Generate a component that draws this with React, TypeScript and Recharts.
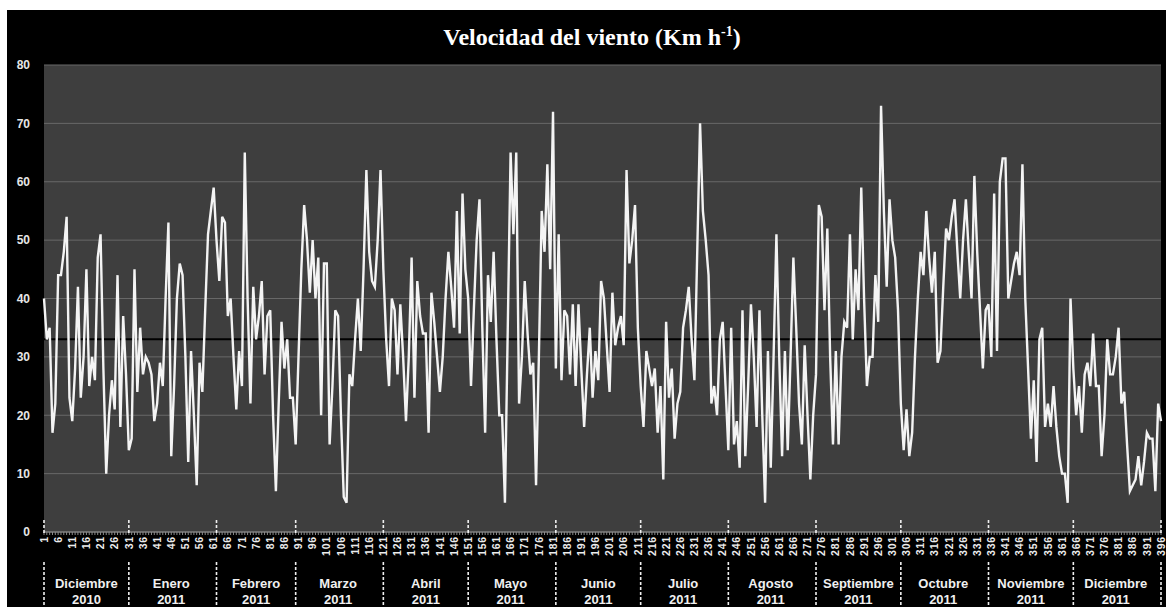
import { LineChart, Line, XAxis, YAxis, CartesianGrid, ReferenceLine } from 'recharts'

// Velocidad media diaria del viento (km/h), diciembre 2010 - diciembre 2011
const dic2010 = [40, 33, 35, 17, 22, 44, 44, 48, 54, 23, 19, 28, 42, 23, 30, 45, 25, 30, 26, 47, 51, 28, 10, 20, 26, 21, 44, 18, 37, 27, 14]
const ene2011 = [16, 45, 24, 35, 27, 30, 29, 27, 19, 22, 29, 25, 40, 53, 13, 25, 40, 46, 44, 30, 12, 31, 20, 8, 29, 24, 38, 51, 55, 59, 50]
const feb2011 = [43, 54, 53, 37, 40, 30, 21, 31, 25, 65, 40, 22, 42, 33, 37, 43, 27, 37, 38, 20, 7, 22, 36, 28, 33, 23, 23, 15]
const mar2011 = [30, 45, 56, 50, 41, 50, 40, 47, 20, 46, 46, 15, 25, 38, 37, 20, 6, 5, 27, 25, 33, 40, 31, 45, 62, 48, 43, 42, 50, 62, 45]
const abr2011 = [33, 25, 40, 38, 27, 39, 30, 19, 30, 47, 23, 43, 37, 34, 34, 17, 41, 36, 30, 24, 30, 40, 48, 42, 35, 55, 34, 58, 45, 40]
const may2011 = [25, 38, 50, 57, 35, 17, 44, 36, 48, 33, 20, 20, 5, 35, 65, 51, 65, 22, 30, 43, 34, 27, 29, 8, 30, 55, 48, 63, 45, 72, 28]
const jun2011 = [51, 26, 38, 37, 27, 39, 25, 39, 28, 18, 27, 35, 23, 31, 26, 43, 40, 32, 24, 41, 32, 35, 37, 32, 62, 46, 50, 56, 35, 25]
const jul2011 = [18, 31, 28, 25, 28, 17, 25, 9, 36, 23, 28, 16, 22, 24, 35, 38, 42, 33, 26, 48, 70, 55, 50, 44, 22, 25, 20, 33, 36, 25, 14]
const ago2011 = [35, 15, 19, 11, 38, 13, 25, 39, 30, 18, 38, 20, 5, 31, 11, 30, 51, 30, 13, 31, 14, 30, 47, 35, 22, 15, 32, 20, 9, 20, 27]
const sep2011 = [56, 54, 38, 52, 30, 15, 31, 15, 30, 36, 35, 51, 33, 45, 38, 59, 40, 25, 30, 30, 44, 36, 73, 55, 42, 57, 50, 47, 38, 22]
const oct2011 = [14, 21, 13, 17, 30, 40, 48, 44, 55, 47, 41, 48, 29, 31, 42, 52, 50, 54, 57, 48, 40, 50, 57, 48, 40, 61, 48, 38, 28, 38, 39]
const nov2011 = [30, 58, 31, 60, 64, 64, 40, 43, 46, 48, 44, 63, 40, 28, 16, 26, 12, 33, 35, 18, 22, 18, 25, 18, 13, 10, 10, 5, 40, 28]
const dic2011 = [20, 25, 17, 27, 29, 25, 34, 25, 25, 13, 20, 33, 27, 27, 30, 35, 22, 24, 15, 7, 8, 9, 13, 8, 12, 17, 16, 16, 7, 22, 19]

const monthNames = ['Diciembre', 'Enero', 'Febrero', 'Marzo', 'Abril', 'Mayo', 'Junio', 'Julio', 'Agosto', 'Septiembre', 'Octubre', 'Noviembre', 'Diciembre']
const monthYears = ['2010', '2011', '2011', '2011', '2011', '2011', '2011', '2011', '2011', '2011', '2011', '2011', '2011']
const monthValues = [dic2010, ene2011, feb2011, mar2011, abr2011, may2011, jun2011, jul2011, ago2011, sep2011, oct2011, nov2011, dic2011]

const meanSpeed = 33
const yTicks = [0, 10, 20, 30, 40, 50, 60, 70, 80]

const speeds = monthValues.flat()
const chartData = speeds.map((v, i) => ({ day: i + 1, speed: v }))
const allDays = chartData.map(d => d.day)

// separators sit on the last day of every month, labels on the middle
const separatorDays: number[] = [1]
const monthLabelAt: Record<number, { name: string; year: string }> = {}
let lastDay = 0
monthValues.forEach((m, i) => {
    const start = lastDay === 0 ? 1 : lastDay
    lastDay += m.length
    separatorDays.push(lastDay)
    monthLabelAt[Math.floor((start + lastDay) / 2)] = { name: monthNames[i], year: monthYears[i] }
})

const FONT = '"Liberation Sans", Arial, sans-serif'

function DayTick(props: any) {
    const { x, y, payload } = props
    const day = payload.value as number
    const showLabel = (day - 1) % 5 === 0
    const isSep = separatorDays.includes(day)
    const month = monthLabelAt[day]

    return (
        <g>
            <line x1={x} x2={x} y1={y} y2={y + 3} stroke="#8a8a8a" strokeWidth={1} />
            {showLabel && (
                <text
                    x={x}
                    y={y + 4}
                    dy="0.35em"
                    transform={`rotate(-90, ${x}, ${y + 4})`}
                    textAnchor="end"
                    fill="#ececec"
                    fontFamily={FONT}
                    fontWeight="bold"
                    fontSize={10.5}
                    letterSpacing={0.8}
                >
                    {day}
                </text>
            )}
            {isSep && (
                <g stroke="#f0f0f0" strokeWidth={1.6} strokeDasharray="3 2">
                    <line x1={x} x2={x} y1={y - 12} y2={y + 1} />
                    <line x1={x} x2={x} y1={y + 30} y2={y + 76} />
                </g>
            )}
            {month && (
                <g fill="#f0f0f0" fontFamily={FONT} fontWeight="bold" fontSize={13} textAnchor="middle">
                    <text x={x} y={y + 51} dy="0.35em">{month.name}</text>
                    <text x={x} y={y + 67} dy="0.35em">{month.year}</text>
                </g>
            )}
        </g>
    )
}

export default function App() {
    return (
        <div style={{ position: 'fixed', top: 10, left: 7, width: 1159, height: 597, background: '#000' }}>
            <div
                style={{
                    position: 'absolute',
                    top: 0,
                    left: 0,
                    width: 1170,
                    height: 55,
                    lineHeight: '55px',
                    textAlign: 'center',
                    color: '#fff',
                    fontFamily: '"Liberation Serif", "Times New Roman", serif',
                    fontWeight: 'bold',
                    fontSize: 24,
                }}
            >
                Velocidad del viento (Km h<span style={{ fontSize: 14, position: 'relative', top: -9 }}>-1</span>)
            </div>
            <LineChart width={1159} height={597} data={chartData} margin={{ top: 55, right: 5, bottom: 0, left: 0 }}>
                <CartesianGrid vertical={false} fill="#3e3e3e" stroke="#686868" strokeWidth={1} />
                <XAxis
                    dataKey="day"
                    type="number"
                    domain={[1, 396]}
                    ticks={allDays}
                    interval={0}
                    height={75}
                    tick={<DayTick />}
                    tickLine={false}
                    tickSize={0}
                    tickMargin={0}
                    axisLine={{ stroke: '#8a8a8a' }}
                />
                <YAxis
                    domain={[0, 80]}
                    ticks={yTicks}
                    width={37}
                    axisLine={false}
                    tickLine={false}
                    tickSize={0}
                    tickMargin={14}
                    tick={{ fill: '#e6e6e6', fontFamily: FONT, fontWeight: 'bold', fontSize: 12 }}
                />
                <ReferenceLine y={meanSpeed} stroke="#000" strokeWidth={2} />
                <Line
                    type="linear"
                    dataKey="speed"
                    stroke="#f4f4f4"
                    strokeWidth={2.4}
                    dot={false}
                    isAnimationActive={false}
                />
            </LineChart>
        </div>
    )
}
